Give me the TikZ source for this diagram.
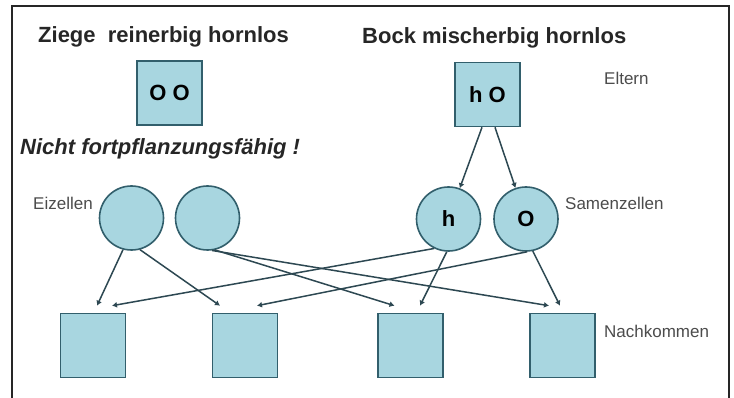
\documentclass[tikz,border=0pt]{standalone}
\usepackage{fontspec}
\setmainfont{Liberation Sans}
\usetikzlibrary{arrows.meta}
\definecolor{zellfill}{RGB}{168,214,224}
\definecolor{zelldraw}{RGB}{50,95,108}
\definecolor{pfeil}{RGB}{45,72,82}

\begin{document}
\begin{tikzpicture}[x=1pt,y=-1pt,
    snode/.style={draw=zelldraw,fill=zellfill,line width=1.6pt,minimum width=65pt,minimum height=64pt,inner sep=0pt,font=\fontsize{22}{24}\selectfont\bfseries},
    cnode/.style={draw=zelldraw,fill=zellfill,line width=1.6pt,circle,minimum size=64pt,inner sep=0pt,font=\fontsize{22}{24}\selectfont\bfseries},
    title/.style={anchor=base west,inner sep=0pt,text=black!85,font=\fontsize{22}{24}\selectfont\bfseries},
    tag/.style={anchor=base west,inner sep=0pt,text=black!70,font=\fontsize{17}{20}\selectfont},
    arr/.style={draw=pfeil,line width=1.5pt,-{Latex[length=5pt,width=6pt]}}]
    \fill[white] (0,0) rectangle (734,398);
    \useasboundingbox (0,0) rectangle (734,398);
    \draw[line width=1.5pt,black!85] (12,398) -- (12,6) -- (729,6) -- (729,398);

    \node[title] (tz) at (38,43) {Ziege\ \ reinerbig hornlos};
    \node[title] (tb) at (362,44) {Bock mischerbig hornlos};
    \node[title,font=\fontsize{22}{24}\selectfont\bfseries\itshape] (tn) at (20,155) {Nicht fortpflanzungsfähig !};

    \node[snode] (m) at (169.5,93) {O O};
    \node[snode] (v) at (487.5,94.5) {h O};
    \node[tag] (el) at (604,85) {Eltern};

    \node[cnode] (e1) at (131.5,218) {};
    \node[cnode] (e2) at (207.5,218) {};
    \node[cnode] (sh) at (448.5,219) {h};
    \node[cnode] (so) at (526,219) {O};
    \node[tag] (ez) at (33,210) {Eizellen};
    \node[tag] (sz) at (565,210) {Samenzellen};

    \node[snode] (k1) at (93,345.5) {};
    \node[snode] (k2) at (245,345.5) {};
    \node[snode] (k3) at (410.5,345.5) {};
    \node[snode] (k4) at (562.5,345.5) {};
    \node[tag] (nk) at (604,337) {Nachkommen};

    \draw[arr] ([xshift=-5.5pt]v.south) -- (sh);
    \draw[arr] ([xshift=7.5pt]v.south) -- (so);

    \draw[arr] (e1.-105) -- ([xshift=4pt,yshift=7pt]k1.north);
    \draw[arr] (e1.-75) -- ([xshift=-25pt,yshift=7pt]k2.north);
    \draw[arr] (e2.-77) -- ([xshift=-16pt,yshift=7pt]k3.north);
    \draw[arr] (e2.-82) -- ([xshift=-13.5pt,yshift=7pt]k4.north);
    \draw[arr] (sh.-116) -- ([xshift=19pt,yshift=7pt]k1.north);
    \draw[arr] (sh.-93) -- ([xshift=9.5pt,yshift=7pt]k3.north);
    \draw[arr] (so.-88) -- ([xshift=12pt,yshift=7pt]k2.north);
    \draw[arr] (so.-78) -- ([xshift=-2.5pt,yshift=7pt]k4.north);
\end{tikzpicture}
\end{document}
